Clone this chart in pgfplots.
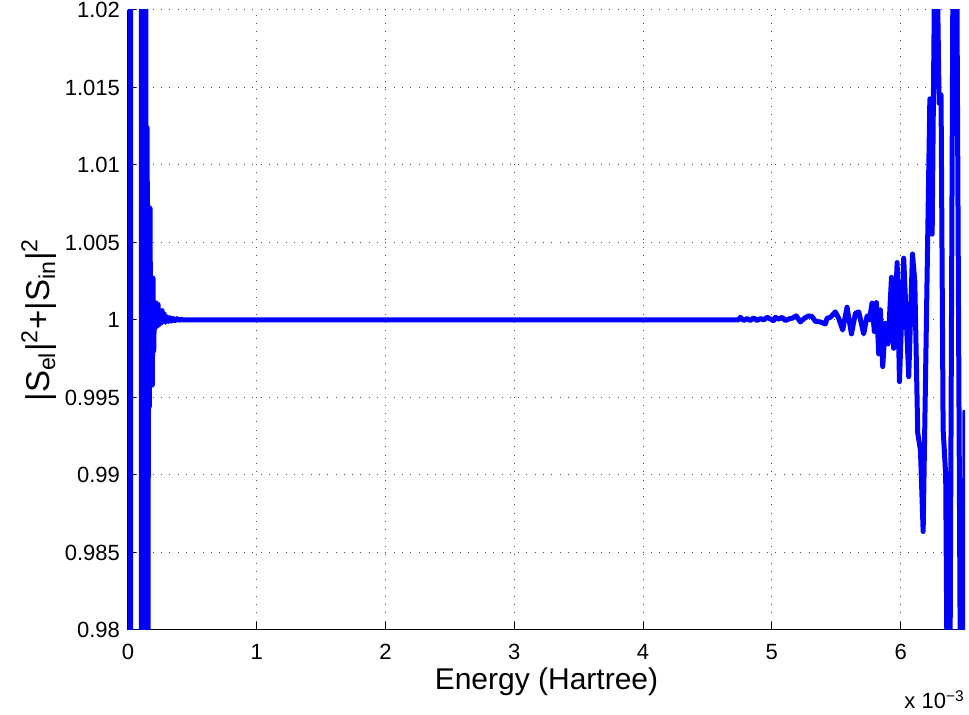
\documentclass[border=0pt]{standalone}
\usepackage{fontspec}
\setmainfont{Liberation Sans}
\usepackage{pgfplots}
\pgfplotsset{compat=1.18}
\begin{document}
\begin{tikzpicture}
\path[use as bounding box] (-64pt,-42.5pt) rectangle (420.5pt,315pt);
\begin{axis}[
  name=ax,
  at={(0,0)}, anchor=south west,
  scale only axis, width=418.5pt, height=310pt,
  xmin=0, xmax=6.5, ymin=0.98, ymax=1.02,
  axis x line*=bottom, axis y line*=left,
  axis line style={black, line width=0.5pt},
  xtick={0,1,2,3,4,5,6},
  xticklabels={0,1,2,3,4,5,6},
  ytick={0.98,0.985,0.99,0.995,1,1.005,1.01,1.015,1.02},
  yticklabels={0.98,0.985,0.99,0.995,1,1.005,1.01,1.015,1.02},
  scaled ticks=false,
  /pgf/number format/assume math mode=true,
  tick align=inside,
  major tick length=4pt,
  tick style={black, line width=0.5pt},
  grid=major,
  major grid style={black!70, line width=0.5pt, dash pattern=on 0.5pt off 3.65pt},
  tick label style={font=\fontsize{11}{13}\selectfont},
  xticklabel style={yshift=-3.5pt},
  yticklabel style={xshift=-0.5pt},
  xlabel={Energy (Hartree)},
  ylabel={|S\textsubscript{el}|\textsuperscript{2}+|S\textsubscript{in}|\textsuperscript{2}},
  xlabel style={font=\fontsize{15}{17}\selectfont, at={(axis description cs:0.5,0)}, anchor=base, yshift=-30pt},
  ylabel style={font=\fontsize{16.5}{18}\selectfont, at={(axis description cs:-0.0932,0.5)}, anchor=base},
]
\addplot[color={rgb,255:red,0;green,0;blue,255}, line width=2.5pt, line join=round, mark=none] coordinates {
(0.019,1.3)
(0.020,0.7)
(0.098,0.7)
(0.1049,1.06)
(0.1127,0.94)
(0.1204,1.06)
(0.1282,0.94)
(0.1360,1.05)
(0.1437,0.95)
(0.1492,1.0124)
(0.1538,0.96)
(0.1593,1.0073)
(0.1655,0.9944)
(0.1709,1.0072)
(0.1772,0.9958)
(0.1826,1.0027)
(0.1888,0.9958)
(0.1943,1.0027)
(0.1997,0.9980)
(0.2059,1.0011)
(0.2113,0.9995)
(0.2176,1.0011)
(0.2253,0.9996)
(0.2331,1.0010)
(0.2409,0.9997)
(0.2486,1.0003)
(0.2564,0.9998)
(0.2642,1.0006)
(0.2720,0.9999)
(0.2797,1.0004)
(0.2914,0.99985)
(0.3030,1.0002)
(0.3147,0.9999)
(0.3263,1.00015)
(0.3380,0.99992)
(0.3497,1.0001)
(0.3652,0.99995)
(0.3807,1.00008)
(0.3963,0.99997)
(0.4118,1.00004)
(0.4274,1.0)
(4.742,1.00000)
(4.755,1.00017)
(4.781,0.99996)
(4.807,1.00009)
(4.833,0.99996)
(4.859,1.00013)
(4.885,0.99996)
(4.911,1.00009)
(4.937,1.00000)
(4.963,1.00017)
(4.988,1.00006)
(5.014,0.99996)
(5.027,1.00017)
(5.053,1.00004)
(5.079,1.00017)
(5.105,0.99996)
(5.131,1.00006)
(5.157,1.00011)
(5.190,1.00026)
(5.221,0.99987)
(5.253,1.00011)
(5.286,1.00026)
(5.312,1.00022)
(5.338,0.99991)
(5.377,0.99987)
(5.416,0.99974)
(5.429,1.00011)
(5.455,1.00017)
(5.493,1.00052)
(5.519,1.00011)
(5.550,0.99935)
(5.584,1.00082)
(5.618,0.99910)
(5.649,1.00043)
(5.675,1.00052)
(5.713,0.99910)
(5.740,1.00026)
(5.758,1.00000)
(5.778,1.00108)
(5.796,0.99925)
(5.812,1.00112)
(5.830,0.99781)
(5.843,1.00065)
(5.861,0.99699)
(5.882,0.99978)
(5.903,0.99845)
(5.929,1.00275)
(5.946,0.99817)
(5.973,1.00370)
(5.991,0.99602)
(6.024,1.00398)
(6.063,0.99634)
(6.092,1.00425)
(6.110,1.0025)
(6.133,0.9927)
(6.154,0.9916)
(6.175,0.98635)
(6.227,1.01426)
(6.245,1.00553)
(6.272,1.030)
(6.299,1.01399)
(6.314,1.01452)
(6.330,0.99296)
(6.350,0.9900)
(6.375,0.96)
(6.420,1.05)
(6.480,0.95)
(6.500,0.9942)
};
\end{axis}
\node[anchor=base east, font=\fontsize{11}{13}\selectfont, inner sep=0pt] at ([yshift=-39.5pt]ax.south east) {x 10\textsuperscript{−3}};
\end{tikzpicture}
\end{document}
